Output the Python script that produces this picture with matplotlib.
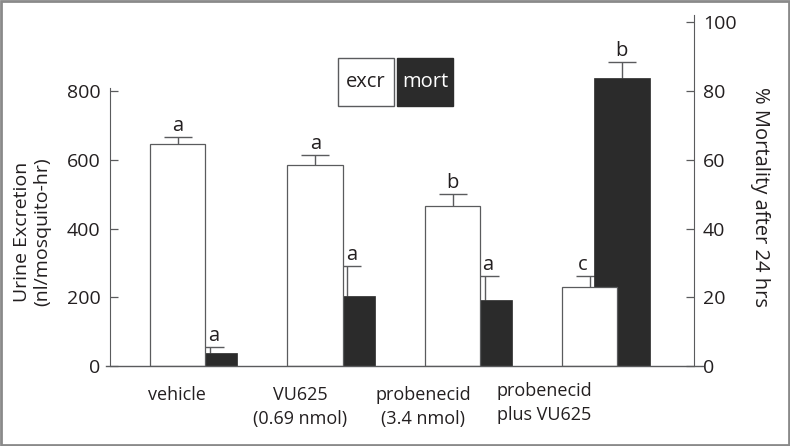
import matplotlib
matplotlib.use('Agg')
import matplotlib.pyplot as plt
import matplotlib.transforms as mtransforms
from matplotlib.patches import Rectangle
from matplotlib.lines import Line2D
import numpy as np

plt.rcParams['font.family'] = ['Open Sans', 'DejaVu Sans']

# ---------------- data ----------------
categories = ['vehicle', 'VU625\n(0.69 nmol)', 'probenecid\n(3.4 nmol)', 'probenecid\nplus VU625']
excr = [647, 584, 466, 231]
excr_err = [20, 29, 35, 31]
mort = [3.7, 20.4, 19.2, 83.7]
mort_err = [1.7, 8.8, 7.0, 4.8]
excr_letters = ['a', 'a', 'b', 'c']
mort_letters = ['a', 'a', 'a', 'b']
left_ticks = [0, 200, 400, 600, 800]
right_ticks = [0, 20, 40, 60, 80, 100]

# ---------------- layout / style ----------------
TXT = '#231f20'
LINE = '#5a5b5d'
DARK = '#2b2b2b'
FS = 13
FS_TICK = 14
FS_BIG = 14.5

groups = np.arange(len(categories))
white_w = 0.404
black_off = [0.404, 0.404, 0.404, 0.233]
black_w = [0.233, 0.233, 0.233, 0.408]
err_off_white = 0.204
err_off_black = 0.437
cap_half = 0.102
letter_dx_white = [0.0, 0.0, 0.0, -0.055]
letter_dx_black = [0.03, 0.03, 0.025, 0.0]
label_x = [0.197, 1.092, 1.988, 2.870]
label_y = [-0.058, -0.058, -0.058, -0.047]

fig = plt.figure(figsize=(7.9, 4.46), dpi=100)
W, H = 790, 446
ax = fig.add_axes([110 / W, 80 / H, 584 / W, 343.75 / H])
ax2 = ax.twinx()
ax.set_zorder(ax2.get_zorder() + 1)
ax.patch.set_visible(False)

ax.set_xlim(-0.2913, 3.962)
ax.set_ylim(0, 1000)
ax2.set_ylim(0, 100)

# white bars (top axes)
ax.bar(groups, excr, width=white_w, align='edge', color='white',
       edgecolor=LINE, linewidth=0.9, zorder=3)

# black bars (lower axes)
ax2.bar(groups + np.array(black_off), mort, width=black_w, align='edge',
        color=DARK, edgecolor=DARK, linewidth=0.5, zorder=3)

# white error bars (drawn beneath black bars)
ex = groups + err_off_white
ex_top = np.array(excr) + np.array(excr_err)
ax2.vlines(ex, excr, ex_top, colors=LINE, linewidth=1.0, zorder=2, transform=ax.transData)
ax2.hlines(ex_top, ex - cap_half, ex + cap_half, colors=LINE, linewidth=1.0, zorder=2,
           transform=ax.transData)

# black error bars
mx = groups + err_off_black
m_top = np.array(mort) + np.array(mort_err)
ax2.vlines(mx, mort, m_top, colors=LINE, linewidth=1.0, zorder=2)
ax2.hlines(m_top, mx - cap_half, mx + cap_half, colors=LINE, linewidth=1.0, zorder=2)

# significance letters
for x, dx, y, s in zip(ex, letter_dx_white, ex_top, excr_letters):
    ax.annotate(s, (x + dx, y), xytext=(0, 4.3), textcoords='offset points',
                ha='center', va='baseline', fontsize=FS_BIG, color=TXT, zorder=6)
for x, dx, y, s in zip(mx, letter_dx_black, m_top, mort_letters):
    ax.annotate(s, (x + dx, y), xycoords=ax2.transData, xytext=(0, 4.3),
                textcoords='offset points', ha='center', va='baseline',
                fontsize=FS_BIG, color=TXT, zorder=6)

# spines
for s in ['top', 'right']:
    ax.spines[s].set_visible(False)
for s in ['top', 'left', 'bottom']:
    ax2.spines[s].set_visible(False)
ax.spines['left'].set_bounds(0, 810)
ax.spines['left'].set_color(LINE)
ax.spines['bottom'].set_visible(False)
ax2.spines['right'].set_bounds(0, 102)
ax2.spines['right'].set_color(LINE)
base = Line2D([-0.007, 1.016], [0, 0], transform=ax.transAxes, color=LINE,
              linewidth=1.0, clip_on=False, zorder=5)
ax.add_line(base)

ax.set_yticks(left_ticks)
ax.set_yticklabels([str(t) for t in left_ticks])
ax2.set_yticks(right_ticks)
ax2.set_yticklabels([str(t) for t in right_ticks])
ax.tick_params(axis='y', direction='in', length=5.5, width=0.9, color=LINE,
               labelcolor=TXT, labelsize=FS_TICK, pad=7)
ax2.tick_params(axis='y', direction='in', length=5.5, width=0.9, color=LINE,
                labelcolor=TXT, labelsize=FS_TICK, pad=6.5)
ax.set_xticks([])
ax2.set_xticks([])

# category labels
blend = mtransforms.blended_transform_factory(ax.transData, ax.transAxes)
for x, y, s in zip(label_x, label_y, categories):
    ax.text(x, y, s, transform=blend, ha='center', va='top', fontsize=FS,
            color=TXT, linespacing=1.4)

# axis titles
fig.text(32 / W, 1 - 232 / H, 'Urine Excretion\n(nl/mosquito-hr)', rotation=90,
         ha='center', va='center', fontsize=FS_TICK, color=TXT, linespacing=1.2)
fig.text(760 / W, 1 - 197 / H, '% Mortality after 24 hrs', rotation=-90,
         ha='center', va='center', fontsize=FS_BIG, color=TXT)

# legend boxes
fig.patches.append(Rectangle((338 / W, 1 - 106 / H), 56 / W, 48 / H, transform=fig.transFigure,
                             facecolor='white', edgecolor=LINE, linewidth=1.0))
fig.patches.append(Rectangle((397 / W, 1 - 106 / H), 56 / W, 48 / H, transform=fig.transFigure,
                             facecolor=DARK, edgecolor=DARK, linewidth=1.0))
fig.text(366 / W, 1 - 82 / H, 'excr', ha='center', va='center', fontsize=FS_BIG, color=TXT)
fig.text(425 / W, 1 - 82 / H, 'mort', ha='center', va='center', fontsize=FS_BIG, color='white')

# figure border
fig.patches.append(Rectangle((0.0015, 0.0025), 0.997, 0.995, transform=fig.transFigure,
                             fill=False, edgecolor='#8a8a8a', linewidth=2.0))

fig.savefig('out.png', dpi=100)
